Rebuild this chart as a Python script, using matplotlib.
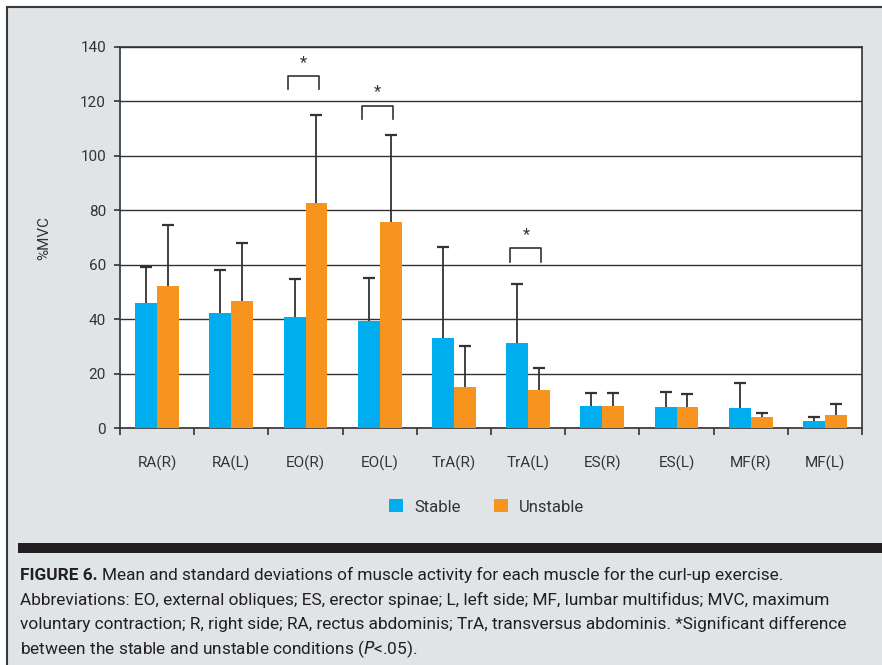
import matplotlib.pyplot as plt
import numpy as np
from matplotlib.patches import Rectangle

plt.rcParams['font.family'] = ['Roboto', 'DejaVu Sans']

# muscle activity (%MVC), mean and SD per muscle
muscles = ['RA(R)', 'RA(L)', 'EO(R)', 'EO(L)', 'TrA(R)', 'TrA(L)',
           'ES(R)', 'ES(L)', 'MF(R)', 'MF(L)']
stable_mean = [45.9, 42.3, 40.8, 39.3, 33.0, 31.1, 8.1, 7.7, 7.4, 2.6]
stable_sd = [13.4, 15.7, 13.9, 15.7, 33.5, 21.8, 4.8, 5.5, 9.0, 1.3]
unstable_mean = [52.2, 46.7, 82.7, 75.7, 15.1, 14.0, 8.1, 7.7, 4.0, 4.8]
unstable_sd = [22.4, 21.3, 32.3, 32.0, 14.9, 8.0, 4.8, 4.9, 1.5, 4.1]

# significant pairs: (muscle index, bracket top, leg bottom)
sig_pairs = [(2, 129.3, 124.6), (3, 118.5, 113.6), (5, 66.2, 61.0)]

BLUE = '#00aeef'
ORANGE = '#f7941d'
GRAY_BG = '#e1e4e7'
DARK = '#333333'

fig = plt.figure(figsize=(8.82, 6.65), dpi=100)
fig.patch.set_facecolor('white')

# gray panel with dark border on top/left
W, H = 882, 665
fig.patches.append(Rectangle((7 / W, -0.01), 1 - 7 / W + 0.01, 1 - 7 / H + 0.01,
                             transform=fig.transFigure, facecolor=GRAY_BG,
                             edgecolor='#3a3a3a', linewidth=1.5, zorder=-10))
# black rule above caption
fig.patches.append(Rectangle((18 / W, 1 - 553 / H), 1, 10 / H,
                             transform=fig.transFigure, facecolor='#231f20',
                             edgecolor='none', zorder=-9))

ax = fig.add_axes([120 / W, 1 - 428 / H, 742 / W, 381 / H])
ax.set_facecolor('white')

x = np.arange(len(muscles))
w = 0.296
ax.bar(x - w / 2, stable_mean, w, color=BLUE, label='Stable', zorder=3)
ax.bar(x + w / 2, unstable_mean, w, color=ORANGE, label='Unstable', zorder=3)

# upper-only SD whiskers with a cap at the top
for xs, m, sd in [(x - w / 2, stable_mean, stable_sd),
                  (x + w / 2, unstable_mean, unstable_sd)]:
    top = np.array(m) + np.array(sd)
    ax.vlines(xs, m, top, color=DARK, linewidth=1.3, zorder=4)
    ax.plot(xs, top, linestyle='none', marker='_', markersize=8,
            markeredgewidth=1.6, color=DARK, zorder=4)

# significance brackets
bw = 0.21
for i, top, bot in sig_pairs:
    cx = i - 0.03
    ax.plot([cx - bw, cx - bw, cx + bw, cx + bw], [bot, top, top, bot],
            color=DARK, linewidth=1.2, zorder=4)
    ax.text(cx, top + 5, '*', ha='center', va='center', fontsize=12,
            color=DARK)

ax.set_xlim(-0.5, len(muscles) - 0.5)
ax.set_ylim(0, 140)
ax.set_yticks(range(0, 141, 20))
ax.set_xticks(np.arange(-0.5, len(muscles), 1.0))
ax.set_xticklabels([])
ax.set_xticks(x, minor=True)
ax.set_xticklabels(muscles, minor=True, fontsize=11, color='#333333')
ax.tick_params(axis='x', which='minor', length=0, pad=20)
ax.tick_params(axis='x', which='major', length=5, width=1.2, color=DARK)
ax.tick_params(axis='y', length=4, width=1.2, color=DARK, labelsize=11,
               labelcolor='#333333', pad=6)
ax.yaxis.grid(True, color='#333333', linewidth=1.0, zorder=1)
ax.set_axisbelow(True)
for s in ax.spines.values():
    s.set_color(DARK)
    s.set_linewidth(1.2)
ax.set_ylabel('%MVC', fontsize=11, color='#333333', labelpad=21)

leg = fig.legend(loc='center', bbox_to_anchor=(487 / W, 1 - 507 / H), ncol=2,
                 frameon=False, fontsize=12, handlelength=0.8,
                 handleheight=0.8, columnspacing=2.0, handletextpad=0.7)
for t in leg.get_texts():
    t.set_color('#333333')

# caption
cap_size = 12.4
cap_lines = [
    'Mean and standard deviations of muscle activity for each muscle for the curl-up exercise.',
    'Abbreviations: EO, external obliques; ES, erector spinae; L, left side; MF, lumbar multifidus; MVC, maximum',
    'voluntary contraction; R, right side; RA, rectus abdominis; TrA, transversus abdominis. *Significant difference',
]
ys = [575, 600, 624, 649]
t0 = fig.text(20 / W, 1 - ys[0] / H, 'FIGURE 6.', fontsize=cap_size,
              weight='bold', va='center', ha='left', color='#231f20')
fig.canvas.draw()
bb = t0.get_window_extent()
fig.text(bb.x1 / W + 4 / W, 1 - ys[0] / H, cap_lines[0], fontsize=cap_size,
         va='center', ha='left', color='#231f20')
for y, line in zip(ys[1:3], cap_lines[1:]):
    fig.text(20 / W, 1 - y / H, line, fontsize=cap_size, va='center',
             ha='left', color='#231f20')
fig.text(20 / W, 1 - ys[3] / H,
         'between the stable and unstable conditions ($P$<.05).',
         fontsize=cap_size, va='center', ha='left', color='#231f20')

fig.savefig('out.png', dpi=100)
